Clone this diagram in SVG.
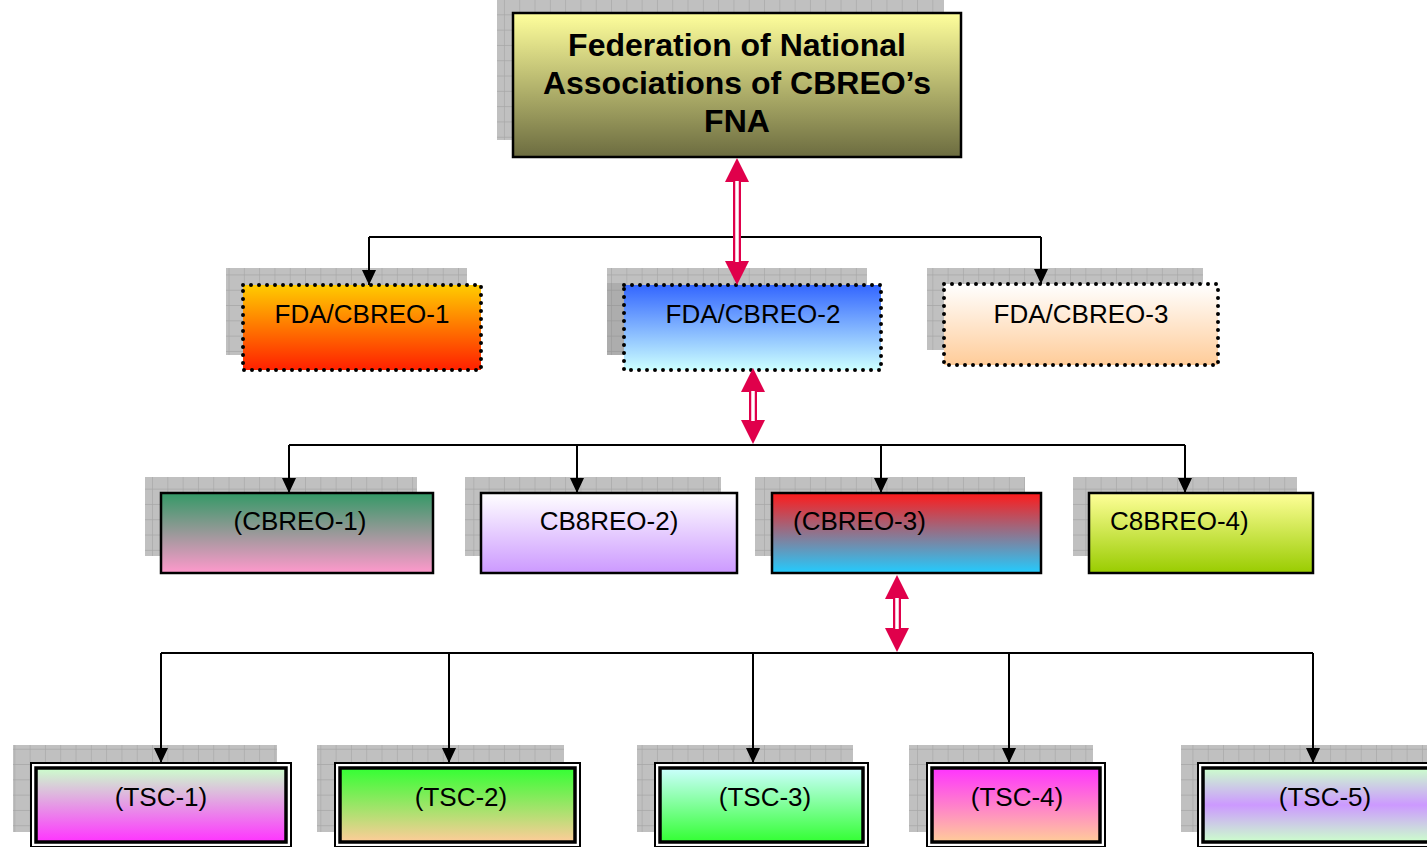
<svg xmlns="http://www.w3.org/2000/svg" width="1427" height="847" viewBox="0 0 1427 847">
<style>
.sh{fill:url(#grid)}
.t{font-family:"Liberation Sans",Arial,sans-serif;font-size:26px;fill:#000}
.title{font-family:"Liberation Sans",Arial,sans-serif;font-size:32px;font-weight:bold;fill:#000}
.solid{stroke:#000;stroke-width:2.5}
.dot{stroke:#000;stroke-width:4;stroke-dasharray:0 8;stroke-linecap:round}
.outer{fill:#fff;stroke:#000;stroke-width:2}
.inner{stroke:#000;stroke-width:3.5}
.conn{fill:none;stroke:#000;stroke-width:2;marker-end:url(#bh)}
.bus{fill:none;stroke:#000;stroke-width:2}
.red{stroke:#e0004b;stroke-width:8;marker-start:url(#rh);marker-end:url(#rh)}
.redw{stroke:#fff;stroke-width:3.5}
</style>
<defs>
<pattern id="grid" patternUnits="userSpaceOnUse" width="15.3" height="15.3">
<rect width="15.3" height="15.3" fill="#c0c0c0"/>
<path d="M15.3 0V15.3M0 15.3H15.3" stroke="#a6a6a6" stroke-width="1.2" fill="none"/>
</pattern>
<marker id="bh" markerUnits="userSpaceOnUse" markerWidth="15" markerHeight="14" viewBox="0 0 15 14" refX="15" refY="7" orient="auto">
<path d="M0,0L15,7L0,14z" fill="#000"/>
</marker>
<marker id="rh" markerUnits="userSpaceOnUse" markerWidth="24" markerHeight="24" viewBox="0 0 24 24" refX="0" refY="12" orient="auto-start-reverse">
<path d="M0,0L24,12L0,24z" fill="#e0004b"/>
</marker>
<linearGradient id="gTop" x1="0" y1="0" x2="0" y2="1"><stop offset="0" stop-color="#ffff9c"/><stop offset="1" stop-color="#6c6c40"/></linearGradient>
<linearGradient id="gF1" x1="0" y1="0" x2="0" y2="1"><stop offset="0" stop-color="#ffcc00"/><stop offset="1" stop-color="#ff2000"/></linearGradient>
<linearGradient id="gF2" x1="0" y1="0" x2="0" y2="1"><stop offset="0" stop-color="#3366ff"/><stop offset="1" stop-color="#ccffff"/></linearGradient>
<linearGradient id="gF3" x1="0" y1="0" x2="0" y2="1"><stop offset="0" stop-color="#ffffff"/><stop offset="1" stop-color="#ffcc99"/></linearGradient>
<linearGradient id="gC1" x1="0" y1="0" x2="0" y2="1"><stop offset="0" stop-color="#339966"/><stop offset="1" stop-color="#ff99cc"/></linearGradient>
<linearGradient id="gC2" x1="0" y1="0" x2="0" y2="1"><stop offset="0" stop-color="#ffffff"/><stop offset="1" stop-color="#cc99ff"/></linearGradient>
<linearGradient id="gC3" x1="0" y1="0" x2="0" y2="1"><stop offset="0" stop-color="#ff1a1a"/><stop offset="1" stop-color="#22ccff"/></linearGradient>
<linearGradient id="gC4" x1="0" y1="0" x2="0" y2="1"><stop offset="0" stop-color="#ffff99"/><stop offset="1" stop-color="#99cc00"/></linearGradient>
<linearGradient id="gT1" x1="0" y1="0" x2="0" y2="1"><stop offset="0" stop-color="#ccffcc"/><stop offset="1" stop-color="#ff33ff"/></linearGradient>
<linearGradient id="gT2" x1="0" y1="0" x2="0" y2="1"><stop offset="0" stop-color="#33ff33"/><stop offset="1" stop-color="#ffcc99"/></linearGradient>
<linearGradient id="gT3" x1="0" y1="0" x2="0" y2="1"><stop offset="0" stop-color="#ccffff"/><stop offset="1" stop-color="#33ff33"/></linearGradient>
<linearGradient id="gT4" x1="0" y1="0" x2="0" y2="1"><stop offset="0" stop-color="#ff33ff"/><stop offset="1" stop-color="#ffcc99"/></linearGradient>
<linearGradient id="gT5" x1="0" y1="0" x2="0" y2="1"><stop offset="0" stop-color="#ccffcc"/><stop offset="0.5" stop-color="#cc99ff"/><stop offset="1" stop-color="#ccffcc"/></linearGradient>
</defs>

<g id="shadows">
<rect class="sh" x="497" y="-4" width="447" height="144"/>
<rect class="sh" x="226" y="268" width="241" height="87"/>
<rect class="sh" x="607" y="268" width="260" height="87"/>
<rect x="607" y="283" width="17" height="72" fill="#808080" opacity="0.3"/>
<rect class="sh" x="927" y="268" width="276" height="82"/>
<rect class="sh" x="145" y="477" width="272" height="79"/>
<rect class="sh" x="465" y="477" width="256" height="79"/>
<rect class="sh" x="755" y="477" width="270" height="79"/>
<rect class="sh" x="1073" y="477" width="224" height="79"/>
<rect class="sh" x="13" y="745" width="264" height="87"/>
<rect class="sh" x="317" y="745" width="247" height="87"/>
<rect class="sh" x="637" y="745" width="216" height="87"/>
<rect class="sh" x="909" y="745" width="184" height="87"/>
<rect class="sh" x="1181" y="745" width="250" height="87"/>
</g>

<g id="fna">
<rect x="513" y="13" width="448" height="144" fill="url(#gTop)" class="solid"/>
<text class="title" x="737" y="56" text-anchor="middle">Federation of National</text>
<text class="title" x="737" y="94" text-anchor="middle">Associations of CBREO’s</text>
<text class="title" x="737" y="132" text-anchor="middle">FNA</text>
</g>

<g id="fda1">
<rect x="243" y="285" width="238" height="85" fill="url(#gF1)"/>
<rect x="243" y="285" width="238" height="85" fill="none" class="dot"/>
<text class="t" x="362" y="323" text-anchor="middle">FDA/CBREO-1</text>
</g>
<g id="fda2">
<rect x="624" y="285" width="257" height="85" fill="url(#gF2)"/>
<rect x="624" y="285" width="257" height="85" fill="none" class="dot"/>
<text class="t" x="753" y="323" text-anchor="middle">FDA/CBREO-2</text>
</g>
<g id="fda3">
<rect x="944" y="284" width="274" height="81" fill="url(#gF3)"/>
<rect x="944" y="284" width="274" height="81" fill="none" class="dot"/>
<text class="t" x="1081" y="323" text-anchor="middle">FDA/CBREO-3</text>
</g>

<g id="cbreo1">
<rect x="161" y="493" width="272" height="80" fill="url(#gC1)" class="solid"/>
<text class="t" x="300" y="530" text-anchor="middle">(CBREO-1)</text>
</g>
<g id="cbreo2">
<rect x="481" y="493" width="256" height="80" fill="url(#gC2)" class="solid"/>
<text class="t" x="609" y="530" text-anchor="middle">CB8REO-2)</text>
</g>
<g id="cbreo3">
<rect x="772" y="493" width="269" height="80" fill="url(#gC3)" class="solid"/>
<text class="t" x="793" y="530">(CBREO-3)</text>
</g>
<g id="cbreo4">
<rect x="1089" y="493" width="224" height="80" fill="url(#gC4)" class="solid"/>
<text class="t" x="1110" y="530">C8BREO-4)</text>
</g>

<g id="tsc1">
<rect class="outer" x="31" y="763" width="260" height="84"/>
<rect class="inner" x="36" y="768" width="250" height="74" fill="url(#gT1)"/>
<text class="t" x="161" y="806" text-anchor="middle">(TSC-1)</text>
</g>
<g id="tsc2">
<rect class="outer" x="335" y="763" width="245" height="84"/>
<rect class="inner" x="340" y="768" width="235" height="74" fill="url(#gT2)"/>
<text class="t" x="461" y="806" text-anchor="middle">(TSC-2)</text>
</g>
<g id="tsc3">
<rect class="outer" x="655" y="763" width="213" height="84"/>
<rect class="inner" x="660" y="768" width="203" height="74" fill="url(#gT3)"/>
<text class="t" x="765" y="806" text-anchor="middle">(TSC-3)</text>
</g>
<g id="tsc4">
<rect class="outer" x="927" y="763" width="178" height="84"/>
<rect class="inner" x="932" y="768" width="168" height="74" fill="url(#gT4)"/>
<text class="t" x="1017" y="806" text-anchor="middle">(TSC-4)</text>
</g>
<g id="tsc5">
<rect class="outer" x="1198" y="763" width="240" height="84"/>
<rect class="inner" x="1203" y="768" width="240" height="74" fill="url(#gT5)"/>
<text class="t" x="1325" y="806" text-anchor="middle">(TSC-5)</text>
</g>

<g id="connectors">
<path class="bus" d="M369 237H1041"/>
<path class="conn" d="M369 237V285"/>
<path class="conn" d="M1041 237V284"/>
<path class="bus" d="M289 445H1185"/>
<path class="conn" d="M289 445V493"/>
<path class="conn" d="M577 445V493"/>
<path class="conn" d="M881 445V493"/>
<path class="conn" d="M1185 445V493"/>
<path class="bus" d="M161 653H1313"/>
<path class="conn" d="M161 653V763"/>
<path class="conn" d="M449 653V763"/>
<path class="conn" d="M753 653V763"/>
<path class="conn" d="M1009 653V763"/>
<path class="conn" d="M1313 653V763"/>
<line class="red" x1="737" y1="182" x2="737" y2="261"/>
<line class="redw" x1="737" y1="181" x2="737" y2="262"/>
<line class="red" x1="753" y1="392" x2="753" y2="420"/>
<line class="redw" x1="753" y1="391" x2="753" y2="421"/>
<line class="red" x1="897" y1="599" x2="897" y2="628"/>
<line class="redw" x1="897" y1="598" x2="897" y2="629"/>
</g>
</svg>
